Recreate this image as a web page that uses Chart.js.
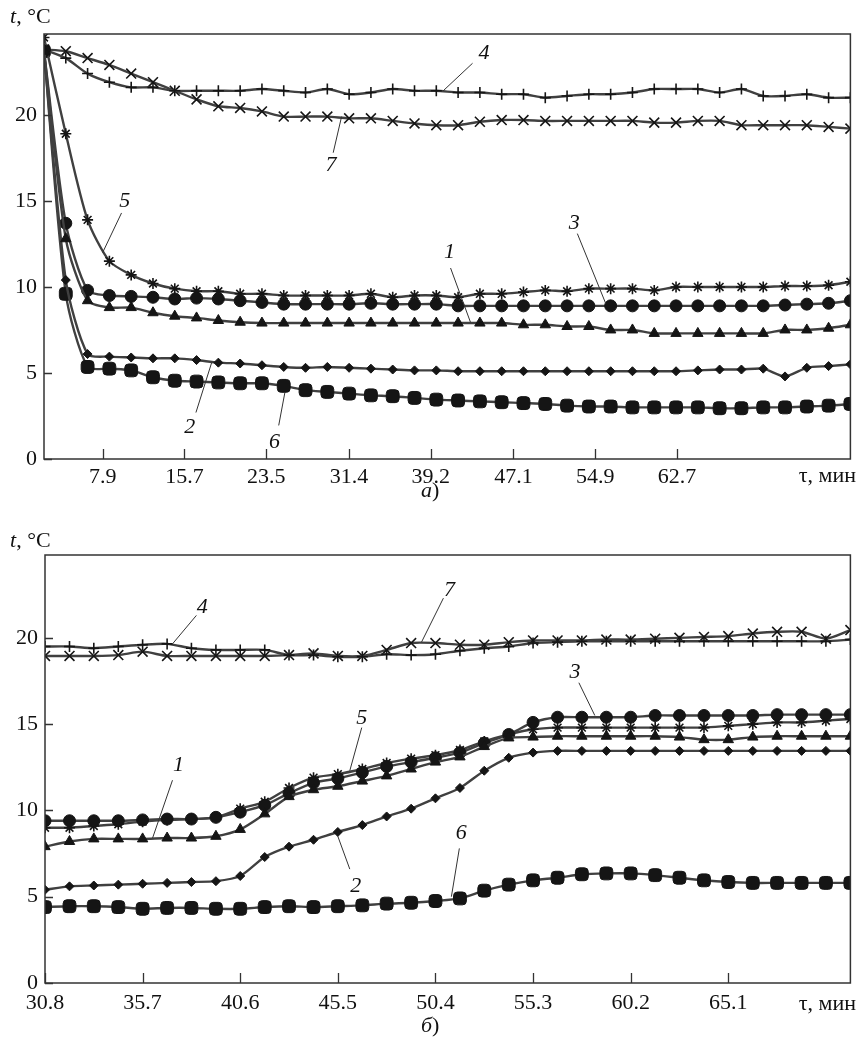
<!DOCTYPE html>
<html>
<head>
<meta charset="utf-8">
<script src="https://cdn.jsdelivr.net/npm/chart.js@4.4.1/dist/chart.umd.min.js"></script>
<style>
  body { margin:0; background:#fff; width:859px; height:1038px; position:relative; overflow:hidden;
         font-family:"Liberation Serif","Times New Roman",serif; color:#111; }
  .box { position:absolute; left:0; width:859px; }
  #boxA { top:0; height:500px; }
  #boxB { top:520px; height:518px; }
  .lbl { position:absolute; font-size:22px; white-space:nowrap; line-height:24px; }
</style>
</head>
<body>
<div class="box" id="boxA"><canvas id="chartA"></canvas></div>
<div class="box" id="boxB"><canvas id="chartB"></canvas></div>

<div class="lbl" style="left:10px;top:4px"><i>t</i>, °C</div>
<div class="lbl" style="left:10px;top:528px"><i>t</i>, °C</div>
<div class="lbl" style="right:3px;top:463px">τ, мин</div>
<div class="lbl" style="right:3px;top:991px">τ, мин</div>
<div class="lbl" style="left:421px;top:478px"><i>а</i>)</div>
<div class="lbl" style="left:421px;top:1013px"><i>б</i>)</div>

<script>
// Two panels of temperature t (°C) vs time τ (min), curves 1..7

// --------------------- Data: panel a ---------------------
const timeA = [2.30, 4.38, 6.46, 8.54, 10.62, 12.70, 14.78, 16.86, 18.94, 21.02,
               23.10, 25.18, 27.26, 29.34, 31.42, 33.50, 35.58, 37.66, 39.74, 41.82,
               43.90, 45.98, 48.06, 50.14, 52.22, 54.30, 56.38, 58.46, 60.54, 62.62,
               64.70, 66.78, 68.86, 70.94, 73.02, 75.10, 77.18, 79.26];
const tickValsA = [7.9, 15.7, 23.5, 31.4, 39.2, 47.1, 54.9, 62.7];
const tickLabelsA = ["7.9", "15.7", "23.5", "31.4", "39.2", "47.1", "54.9", "62.7"];

const s1A = [23.7, 12.8, 9.2, 8.8, 8.8, 8.5, 8.3, 8.2, 8.05, 7.95,
             7.9, 7.9, 7.9, 7.9, 7.9, 7.9, 7.9, 7.9, 7.9, 7.9,
             7.9, 7.9, 7.8, 7.8, 7.7, 7.7, 7.5, 7.5, 7.3, 7.3,
             7.3, 7.3, 7.3, 7.3, 7.5, 7.5, 7.6, 7.8];
const s2A = [23.7, 10.4, 6.1, 5.95, 5.9, 5.85, 5.85, 5.75, 5.6, 5.55,
             5.45, 5.35, 5.3, 5.35, 5.3, 5.25, 5.2, 5.15, 5.15, 5.1,
             5.1, 5.1, 5.1, 5.1, 5.1, 5.1, 5.1, 5.1, 5.1, 5.1,
             5.15, 5.2, 5.2, 5.25, 4.8, 5.3, 5.4, 5.5];
const s3A = [23.7, 13.7, 9.8, 9.5, 9.45, 9.4, 9.3, 9.35, 9.3, 9.2,
             9.1, 9.0, 9.0, 9.0, 9.0, 9.05, 9.0, 9.0, 9.0, 8.9,
             8.9, 8.9, 8.9, 8.9, 8.9, 8.9, 8.9, 8.9, 8.9, 8.9,
             8.9, 8.9, 8.9, 8.9, 8.95, 9.0, 9.05, 9.2];
const s4A = [23.8, 23.3, 22.4, 21.9, 21.6, 21.6, 21.4, 21.4, 21.4, 21.4,
             21.5, 21.4, 21.3, 21.5, 21.2, 21.3, 21.5, 21.4, 21.4, 21.3,
             21.3, 21.2, 21.2, 21.0, 21.1, 21.2, 21.2, 21.3, 21.5, 21.5,
             21.5, 21.3, 21.5, 21.1, 21.1, 21.2, 21.0, 21.0];
const s5A = [24.5, 18.9, 13.9, 11.5, 10.7, 10.2, 9.9, 9.75, 9.75, 9.6,
             9.6, 9.5, 9.5, 9.5, 9.5, 9.6, 9.4, 9.5, 9.5, 9.4,
             9.6, 9.6, 9.7, 9.8, 9.75, 9.9, 9.9, 9.9, 9.8, 10.0,
             10.0, 10.0, 10.0, 10.0, 10.05, 10.05, 10.1, 10.3];
const s6A = [23.7, 9.6, 5.35, 5.25, 5.15, 4.75, 4.55, 4.5, 4.45, 4.4,
             4.4, 4.25, 4.0, 3.9, 3.8, 3.7, 3.65, 3.55, 3.45, 3.4,
             3.35, 3.3, 3.25, 3.2, 3.1, 3.05, 3.05, 3.0, 3.0, 3.0,
             3.0, 2.95, 2.95, 3.0, 3.0, 3.05, 3.1, 3.2];
const s7A = [23.8, 23.7, 23.3, 22.9, 22.4, 21.9, 21.4, 20.9, 20.5, 20.4,
             20.2, 19.9, 19.9, 19.9, 19.8, 19.8, 19.65, 19.5, 19.4, 19.4,
             19.6, 19.7, 19.7, 19.65, 19.65, 19.65, 19.65, 19.65, 19.55, 19.55,
             19.65, 19.65, 19.4, 19.4, 19.4, 19.4, 19.3, 19.2];

// --------------------- Data: panel б ---------------------
const timeB = [30.80, 32.03, 33.25, 34.48, 35.70, 36.93, 38.15, 39.38, 40.60, 41.83,
               43.05, 44.28, 45.50, 46.73, 47.95, 49.18, 50.40, 51.63, 52.85, 54.08,
               55.30, 56.53, 57.75, 58.98, 60.20, 61.43, 62.65, 63.88, 65.10, 66.33,
               67.55, 68.78, 70.00, 71.23];
const tickValsB = [30.8, 35.7, 40.6, 45.5, 50.4, 55.3, 60.2, 65.1];
const tickLabelsB = ["30.8", "35.7", "40.6", "45.5", "50.4", "55.3", "60.2", "65.1"];

const s1B = [7.9, 8.2, 8.35, 8.35, 8.35, 8.4, 8.4, 8.5, 8.9, 9.8,
             10.8, 11.2, 11.4, 11.7, 12.0, 12.4, 12.8, 13.1, 13.7, 14.2,
             14.25, 14.3, 14.3, 14.3, 14.3, 14.3, 14.25, 14.1, 14.1, 14.25,
             14.3, 14.3, 14.3, 14.3];
const s2B = [5.4, 5.6, 5.65, 5.7, 5.75, 5.8, 5.85, 5.9, 6.2, 7.3,
             7.9, 8.3, 8.75, 9.15, 9.65, 10.1, 10.7, 11.3, 12.3, 13.05,
             13.35, 13.45, 13.45, 13.45, 13.45, 13.45, 13.45, 13.45, 13.45, 13.45,
             13.45, 13.45, 13.45, 13.45];
const s3B = [9.4, 9.4, 9.4, 9.4, 9.45, 9.5, 9.5, 9.6, 9.9, 10.3,
             11.0, 11.6, 11.85, 12.2, 12.55, 12.8, 13.05, 13.35, 13.9, 14.4,
             15.1, 15.4, 15.4, 15.4, 15.4, 15.5, 15.5, 15.5, 15.5, 15.5,
             15.55, 15.55, 15.55, 15.55];
const s4B = [19.5, 19.5, 19.4, 19.5, 19.6, 19.65, 19.4, 19.3, 19.3, 19.3,
             19.0, 19.0, 18.9, 18.9, 19.05, 19.0, 19.05, 19.25, 19.4, 19.5,
             19.7, 19.75, 19.8, 19.8, 19.8, 19.8, 19.8, 19.8, 19.8, 19.8,
             19.8, 19.8, 19.8, 19.9];
const s5B = [9.0, 9.0, 9.1, 9.2, 9.35, 9.45, 9.5, 9.6, 10.1, 10.5,
             11.3, 11.9, 12.1, 12.4, 12.75, 13.0, 13.2, 13.5, 14.0, 14.4,
             14.7, 14.8, 14.8, 14.8, 14.8, 14.8, 14.8, 14.8, 14.9, 15.0,
             15.1, 15.1, 15.2, 15.3];
const s6B = [4.4, 4.45, 4.45, 4.4, 4.3, 4.35, 4.35, 4.3, 4.3, 4.4,
             4.45, 4.4, 4.45, 4.5, 4.6, 4.65, 4.75, 4.9, 5.35, 5.7,
             5.95, 6.1, 6.3, 6.35, 6.35, 6.25, 6.1, 5.95, 5.85, 5.8,
             5.8, 5.8, 5.8, 5.8];
const s7B = [18.95, 18.95, 18.95, 19.0, 19.2, 18.95, 18.95, 18.95, 18.95, 18.95,
             19.0, 19.1, 18.95, 18.95, 19.3, 19.7, 19.7, 19.6, 19.6, 19.75,
             19.85, 19.85, 19.85, 19.9, 19.9, 19.95, 20.0, 20.05, 20.1, 20.25,
             20.35, 20.35, 19.95, 20.45];

const yTicks = [0, 5, 10, 15, 20];

// curve number labels with leader lines, in data units: [τ, t] of text, leader from -> to
const notesA = [
  { text: "4", at: [44.3, 23.6], from: [43.2, 23.0], to: [40.4, 21.4] },
  { text: "7", at: [29.7, 17.1], from: [29.9, 17.8], to: [30.7, 19.9] },
  { text: "5", at: [10.0, 15.0], from: [9.7, 14.3],  to: [7.9, 12.0] },
  { text: "1", at: [41.0, 12.0], from: [41.1, 11.1], to: [43.0, 7.95] },
  { text: "3", at: [52.9, 13.7], from: [53.2, 13.1], to: [55.9, 9.05] },
  { text: "2", at: [16.2, 1.85], from: [16.8, 2.7],  to: [18.3, 5.6] },
  { text: "6", at: [24.3, 1.0],  from: [24.7, 1.95], to: [25.3, 3.9] }
];
const notesB = [
  { text: "4", at: [38.7, 21.8], from: [38.4, 21.3], to: [37.2, 19.65] },
  { text: "7", at: [51.1, 22.75], from: [50.8, 22.3], to: [49.7, 19.75] },
  { text: "5", at: [46.7, 15.35], from: [46.7, 14.8], to: [46.1, 12.3] },
  { text: "1", at: [37.5, 12.6], from: [37.2, 11.75], to: [36.2, 8.4] },
  { text: "3", at: [57.4, 18.0], from: [57.6, 17.4], to: [58.4, 15.5] },
  { text: "2", at: [46.4, 5.6],  from: [46.1, 6.6],  to: [45.5, 8.5] },
  { text: "6", at: [51.7, 8.7],  from: [51.6, 7.8],  to: [51.2, 5.0] }
];

// --------------------- Styles ---------------------
const LINE = "#404040";
const INK = "#151515";
const curveStyle = {
  1: { pointStyle: "triangle",    pointRadius: 6,   filled: true },
  2: { pointStyle: "rectRot",     pointRadius: 4.5, filled: true },
  3: { pointStyle: "circle",      pointRadius: 6,   filled: true },
  4: { pointStyle: "cross",       pointRadius: 5.5, filled: false },
  5: { pointStyle: "star",        pointRadius: 5.5, filled: false },
  6: { pointStyle: "rectRounded", pointRadius: 7.5, filled: true },
  7: { pointStyle: "crossRot",    pointRadius: 7,   filled: false }
};

Chart.defaults.font.family = '"Liberation Serif", "Times New Roman", serif';
Chart.defaults.font.size = 22;
Chart.defaults.color = "#111";

function buildSets(times, list){
  return list.map((vals, i) => {
    const st = curveStyle[i + 1];
    return {
      label: String(i + 1),
      data: vals.map((v, k) => ({ x: times[k], y: v })),
      borderColor: LINE,
      borderWidth: 2.4,
      tension: 0.25,
      pointStyle: st.pointStyle,
      pointRadius: st.pointRadius,
      pointBackgroundColor: st.filled ? INK : "rgba(0,0,0,0)",
      pointBorderColor: INK,
      pointBorderWidth: st.filled ? 1 : 1.6
    };
  });
}

// frame, inward tick marks and curve numbers
const framePlugin = {
  id: "frame",
  afterDraw(chart, args, opts){
    const { ctx, chartArea: a, scales: { x, y } } = chart;
    ctx.save();
    ctx.strokeStyle = "#333";
    ctx.lineWidth = 1.5;
    ctx.strokeRect(a.left, a.top, a.right - a.left, a.bottom - a.top);
    ctx.lineWidth = 1.3;
    ctx.beginPath();
    y.ticks.forEach(t => {
      const py = Math.round(y.getPixelForValue(t.value)) + 0.5;
      ctx.moveTo(a.left, py); ctx.lineTo(a.left + 8, py);
    });
    x.ticks.forEach(t => {
      const px = Math.round(x.getPixelForValue(t.value)) + 0.5;
      ctx.moveTo(px, a.bottom); ctx.lineTo(px, a.bottom - 10);
    });
    ctx.stroke();

    ctx.font = 'italic 22px "Liberation Serif", "Times New Roman", serif';
    ctx.fillStyle = "#111";
    ctx.textAlign = "center";
    ctx.textBaseline = "middle";
    ctx.lineWidth = 1;
    (opts.notes || []).forEach(n => {
      ctx.beginPath();
      ctx.moveTo(x.getPixelForValue(n.from[0]), y.getPixelForValue(n.from[1]));
      ctx.lineTo(x.getPixelForValue(n.to[0]), y.getPixelForValue(n.to[1]));
      ctx.stroke();
      ctx.fillText(n.text, x.getPixelForValue(n.at[0]), y.getPixelForValue(n.at[1]));
    });
    ctx.restore();
  }
};

function makeChart(canvasId, cfg){
  return new Chart(document.getElementById(canvasId), {
    type: "line",
    data: { datasets: buildSets(cfg.times, cfg.series) },
    options: {
      responsive: true,
      maintainAspectRatio: false,
      animation: false,
      layout: { padding: { top: cfg.padTop, right: cfg.padRight, left: 0, bottom: 0 } },
      scales: {
        x: {
          type: "linear",
          min: cfg.times[0],
          max: cfg.times[cfg.times.length - 1],
          grid: { display: false, drawTicks: false },
          border: { display: false },
          afterBuildTicks: (axis) => { axis.ticks = cfg.tickVals.map(v => ({ value: v })); },
          afterFit: (axis) => { axis.height = cfg.xAxisH; },
          ticks: {
            autoSkip: false, maxRotation: 0, padding: cfg.xPad,
            callback: (v) => cfg.tickLabels[cfg.tickVals.indexOf(v)]
          }
        },
        y: {
          min: 0,
          max: cfg.yMax,
          grid: { display: false, drawTicks: false },
          border: { display: false },
          afterBuildTicks: (axis) => { axis.ticks = yTicks.map(v => ({ value: v })); },
          afterFit: (axis) => { axis.width = cfg.yAxisW; },
          ticks: { padding: 7 }
        }
      },
      plugins: {
        legend: { display: false },
        tooltip: { enabled: false },
        frame: { notes: cfg.notes }
      }
    },
    plugins: [framePlugin]
  });
}

// --------------------- Init ---------------------
makeChart("chartA", {
  times: timeA, series: [s1A, s2A, s3A, s4A, s5A, s6A, s7A],
  tickVals: tickValsA, tickLabels: tickLabelsA, notes: notesA,
  yMax: 24.7, padTop: 34, padRight: 4, yAxisW: 44, xAxisH: 41, xPad: 5
});
makeChart("chartB", {
  times: timeB, series: [s1B, s2B, s3B, s4B, s5B, s6B, s7B],
  tickVals: tickValsB, tickLabels: tickLabelsB, notes: notesB,
  yMax: 24.8, padTop: 35, padRight: 6, yAxisW: 45, xAxisH: 55, xPad: 7
});
</script>
</body>
</html>
